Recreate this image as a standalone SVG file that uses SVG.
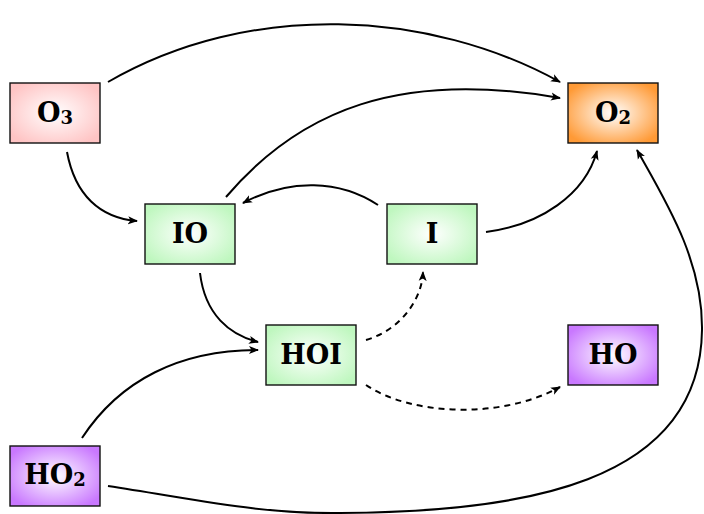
<svg xmlns="http://www.w3.org/2000/svg" width="704" height="514" viewBox="0 0 704 514">
<defs>
<radialGradient id="gPink" r="0.6"><stop offset="0" stop-color="#ffffff"/><stop offset="1" stop-color="#ffc4c4"/></radialGradient>
<radialGradient id="gOrange" r="0.6"><stop offset="0" stop-color="#ffffff"/><stop offset="1" stop-color="#ff9a36"/></radialGradient>
<radialGradient id="gGreen" r="0.6"><stop offset="0" stop-color="#ffffff"/><stop offset="1" stop-color="#bff7bf"/></radialGradient>
<radialGradient id="gPurple" r="0.6"><stop offset="0" stop-color="#ffffff"/><stop offset="1" stop-color="#c978ff"/></radialGradient>
<marker id="arr" viewBox="0 0 10 10" refX="9" refY="5" markerWidth="10" markerHeight="10" markerUnits="userSpaceOnUse" orient="auto">
<path d="M0,1 L10,5 L0,9 L2.5,5 Z" fill="#000"/>
</marker>
</defs>
<style>
.box{stroke:#111;stroke-width:1.4}
.lbl{font-family:"DejaVu Serif","Liberation Serif",serif;font-weight:bold;font-size:27px;text-anchor:middle;dominant-baseline:central;fill:#000}
.sub{font-size:18px}
.e{fill:none;stroke:#000;stroke-width:2;marker-end:url(#arr)}
.d{stroke-dasharray:6,5}
</style>
<rect width="704" height="514" fill="#fff"/>
<g id="connectors">
<path class="e" d="M108,82 C250,0 430,10 560,82"/>
<path class="e" d="M226,197 C300,110 400,70 560,98"/>
<path class="e" d="M67,152 C75,195 100,218 137,221"/>
<path class="e" d="M378,205 C340,180 290,178 243,203"/>
<path class="e" d="M486,232 C540,225 585,195 597,151"/>
<path class="e" d="M200,273 C205,315 230,335 258,342"/>
<path class="e" d="M82,438 C120,380 180,350 258,350"/>
<path class="e d" d="M366,340 C400,330 422,300 423,272"/>
<path class="e d" d="M366,385 C410,415 500,420 560,387"/>
<path class="e" d="M108,486 C200,500 260,514 340,513 C520,512 700,485 702,330 C703,260 665,200 637,150"/>
</g>
<g id="O3"><rect class="box" x="10" y="83" width="90" height="60" fill="url(#gPink)"/><text class="lbl" x="55" y="112">O<tspan class="sub" dy="5">3</tspan></text></g>
<g id="O2"><rect class="box" x="568" y="83" width="90" height="60" fill="url(#gOrange)"/><text class="lbl" x="613" y="112">O<tspan class="sub" dy="5">2</tspan></text></g>
<g id="IO"><rect class="box" x="145" y="204" width="90" height="60" fill="url(#gGreen)"/><text class="lbl" x="190" y="233">IO</text></g>
<g id="I"><rect class="box" x="387" y="204" width="90" height="60" fill="url(#gGreen)"/><text class="lbl" x="432" y="233">I</text></g>
<g id="HOI"><rect class="box" x="266" y="325" width="90" height="60" fill="url(#gGreen)"/><text class="lbl" x="311" y="354">HOI</text></g>
<g id="HO"><rect class="box" x="568" y="325" width="90" height="60" fill="url(#gPurple)"/><text class="lbl" x="613" y="354">HO</text></g>
<g id="HO2"><rect class="box" x="10" y="446" width="90" height="60" fill="url(#gPurple)"/><text class="lbl" x="55" y="474">HO<tspan class="sub" dy="5">2</tspan></text></g>
</svg>
